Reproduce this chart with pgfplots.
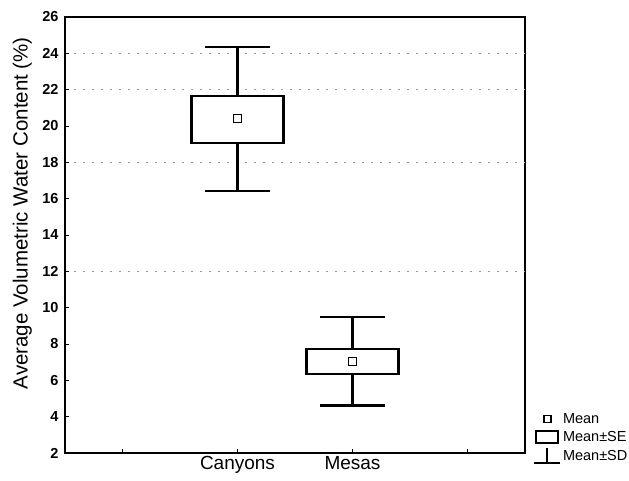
\documentclass[border=0pt]{standalone}
\usepackage{fontspec}
\setmainfont{Liberation Sans}
\usepackage{pgfplots}
\pgfplotsset{compat=1.18}
\begin{document}
\begin{tikzpicture}
\begin{axis}[
  scale only axis, width=460pt, height=436pt,
  xmin=-0.5, xmax=3.5, ymin=2, ymax=26,
  xtick={0,1,2,3}, xticklabels={,Canyons,Mesas,},
  ytick={2,4,...,26},
  tick align=inside, major tick length=4pt,
  xtick pos=bottom, ytick pos=left,
  axis line style={line width=2.4pt},
  every tick/.style={black, line width=1pt},
  /pgf/number format/assume math mode=true,
  yticklabel style={font=\fontsize{14.5}{14.5}\selectfont\bfseries, xshift=-3pt},
  xticklabel style={font=\fontsize{19}{19}\selectfont},
  ylabel={Average Volumetric Water Content (\%)},
  ylabel style={font=\fontsize{20.5}{20.5}\selectfont, at={(axis description cs:-0.093,0.55)}, anchor=center},
  extra y ticks={12,18,22,24}, extra y tick labels={},
  extra y tick style={grid=major, major grid style={gray!80, line width=0.8pt, dash pattern=on 2pt off 7pt}},
  legend style={draw=none, fill=none, at={(axis description cs:1.017,-0.025)}, anchor=south west, font=\fontsize{14.5}{14.5}\selectfont, row sep=2pt, inner sep=0pt},
  legend cell align=left,
  clip=false,
]
\addlegendimage{legend image code/.code={\draw[line width=1.2pt] (8pt,-3.5pt) rectangle (15pt,3.5pt);}}
\addlegendentry{Mean}
\addlegendimage{legend image code/.code={\draw[line width=2pt] (0pt,-6pt) rectangle (22pt,6pt);}}
\addlegendentry{Mean±SE}
\addlegendimage{legend image code/.code={\draw[line width=2pt] (11pt,8pt) -- (11pt,-7pt) (-2pt,-7pt) -- (24pt,-7pt);}}
\addlegendentry{Mean±SD}

% Canyons: whiskers (mean +- SD)
\addplot[forget plot, black, line width=2.2pt, mark=none] coordinates {(1,16.42) (1,24.35)};
\addplot[forget plot, black, line width=2.2pt, mark=none] coordinates {(0.715,24.35) (1.285,24.35)};
\addplot[forget plot, black, line width=2.2pt, mark=none] coordinates {(0.715,16.42) (1.285,16.42)};
% Canyons: box (mean +- SE)
\addplot[forget plot, black, fill=white, line width=2.2pt, mark=none] coordinates {(0.6,19.08) (1.4,19.08) (1.4,21.67) (0.6,21.67)} -- cycle;
% Mesas: whiskers
\addplot[forget plot, black, line width=2.2pt, mark=none] coordinates {(2,4.61) (2,9.47)};
\addplot[forget plot, black, line width=2.2pt, mark=none] coordinates {(1.715,9.47) (2.285,9.47)};
\addplot[forget plot, black, line width=2.2pt, mark=none] coordinates {(1.715,4.61) (2.285,4.61)};
% Mesas: box
\addplot[forget plot, black, fill=white, line width=2.2pt, mark=none] coordinates {(1.6,6.35) (2.4,6.35) (2.4,7.71) (1.6,7.71)} -- cycle;
% Means
\addplot[forget plot, only marks, mark=square, mark size=4pt, black, line width=0.9pt] coordinates {(1,20.44) (2,7.03)};
\coordinate (bl) at (rel axis cs:0,0);
\coordinate (tr) at (rel axis cs:1,1);
\end{axis}
\pgfresetboundingbox
\useasboundingbox ([xshift=-65pt,yshift=-27pt]bl) rectangle ([xshift=104pt,yshift=17pt]tr);
\end{tikzpicture}
\end{document}
